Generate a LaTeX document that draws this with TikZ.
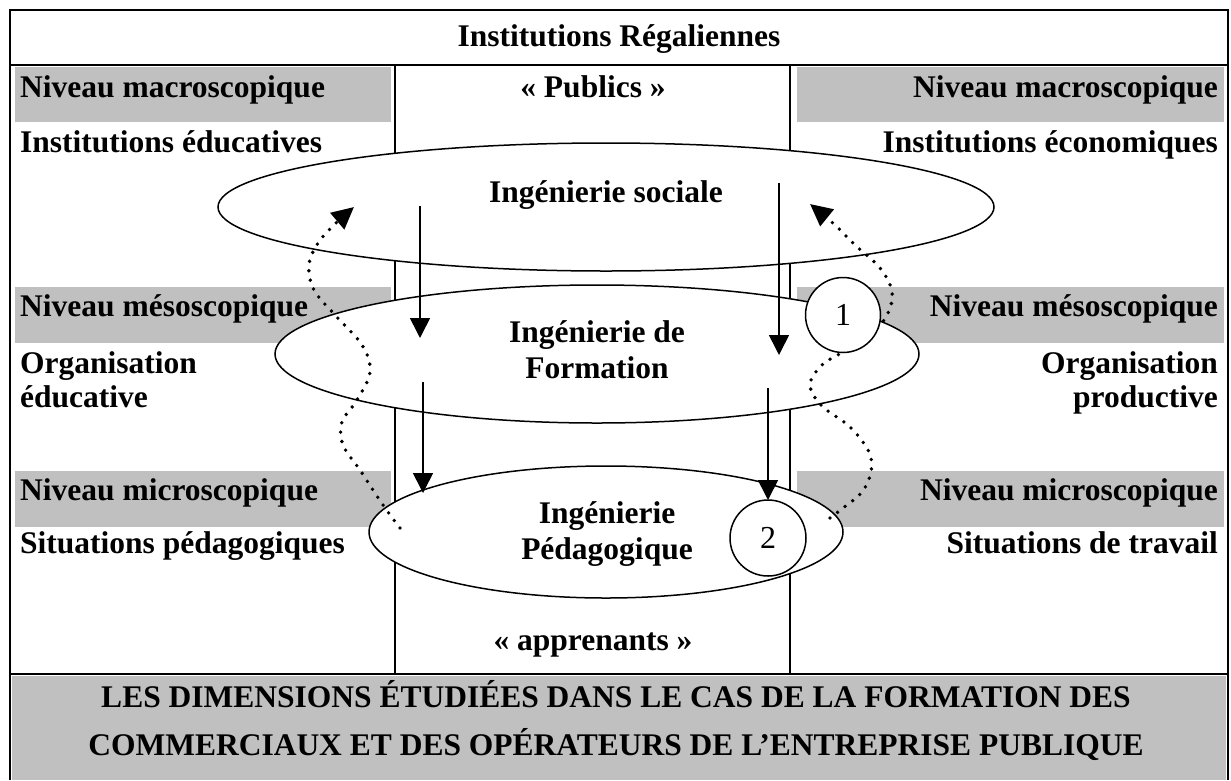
\documentclass[tikz,border=0pt]{standalone}
\usepackage{fontspec}
\setmainfont{Liberation Serif}
\usetikzlibrary{arrows.meta,shapes.geometric}
\definecolor{barGrey}{HTML}{C0C0C0}
\begin{document}
\begin{tikzpicture}[x=1pt,y=-1pt,
  lbl/.style={font=\fontsize{31.5}{36}\selectfont\bfseries, inner sep=0pt, anchor=base},
  lft/.style={lbl, anchor=base west},
  rgt/.style={lbl, anchor=base east},
  frameline/.style={line width=2pt},
  greybar/.style={fill=barGrey, draw=none},
  ellbox/.style={ellipse, draw, fill=white, line width=1.5pt, inner sep=0pt},
  numcirc/.style={circle, draw, fill=white, line width=1.5pt, inner sep=0pt,
     minimum size=75pt, font=\fontsize{32}{36}\selectfont},
  solidarrow/.style={line width=1.6pt, -{Triangle[length=20pt,width=20pt]}},
  dotarrow/.style={line width=3.8pt, line cap=round, dash pattern=on 0pt off 9.5pt,
     -{Triangle[length=22pt,width=21pt]}}]
\useasboundingbox (0,0) rectangle (1231,780);
\fill[white] (0,0) rectangle (1231,780);
% grey bars
\fill[greybar] (15,67) rectangle (391,122);
\fill[greybar] (15,287) rectangle (391,343);
\fill[greybar] (15,471) rectangle (391,527);
\fill[greybar] (797,67) rectangle (1224,122);
\fill[greybar] (797,287) rectangle (1224,343);
\fill[greybar] (797,471) rectangle (1224,527);
\fill[greybar] (12,676) rectangle (1226,780);
% frame
\draw[frameline] (10,780) -- (10,10) -- (1228,10) -- (1228,780);
\draw[frameline] (10,65) -- (1228,65);
\draw[frameline] (10,674) -- (1228,674);
\draw[frameline] (395,65) -- (395,674);
\draw[frameline] (790,65) -- (790,674);
% ellipses
\node[ellbox, minimum width=776pt, minimum height=128pt] (soc) at (606,207) {};
\node[ellbox, minimum width=644pt, minimum height=138pt] (form) at (597,354) {};
\node[ellbox, minimum width=474pt, minimum height=132pt] (peda) at (606,532) {};
\node[lbl] (tsoc) at (606,202) {Ingénierie sociale};
\node[lbl] (tform1) at (597,342) {Ingénierie de};
\node[lbl] (tform2) at (597,378) {Formation};
\node[lbl] (tpeda1) at (607,523) {Ingénierie};
\node[lbl] (tpeda2) at (607,559) {Pédagogique};
% solid arrows
\coordinate (a1) at (420,206); \coordinate (a2) at (420,338);
\coordinate (b1) at (779,183); \coordinate (b2) at (779,355);
\coordinate (c1) at (423,382); \coordinate (c2) at (423,493);
\coordinate (d1) at (768,388); \coordinate (d2) at (768,500);
\draw[solidarrow] (a1) -- (a2);
\draw[solidarrow] (b1) -- (b2);
\draw[solidarrow] (c1) -- (c2);
\draw[solidarrow] (d1) -- (d2);
% dotted curves
\draw[dotarrow] plot[smooth, tension=0.6] coordinates {(400,528) (383,505) (360,470) (343,445) (342,422) (357,400) (370,372) (362,345) (335,315) (314,290) (309,265) (318,243) (335,224) (354,207)};
\draw[dotarrow] plot[smooth, tension=0.6] coordinates {(830,518) (843,508) (862,492) (871,472) (869,452) (850,427) (822,406) (810,385) (822,365) (843,352) (870,335) (887,315) (892,292) (880,268) (855,245) (835,225) (810,204)};
% circles
\node[numcirc] (one) at (843,315) {1};
\node[numcirc, minimum size=76pt] (two) at (768,538) {2};
% texts
\node[lbl] (title) at (619,46) {Institutions Régaliennes};
\node[lbl] (publics) at (593,97) {« Publics »};
\node[lbl] (appr) at (593,650) {« apprenants »};
\node[lft] (nmacL) at (20,97) {Niveau macroscopique};
\node[rgt] (nmacR) at (1218,97) {Niveau macroscopique};
\node[lft] (instE) at (20,152) {Institutions éducatives};
\node[rgt] (instEc) at (1218,152) {Institutions économiques};
\node[lft] (nmesL) at (20,316) {Niveau mésoscopique};
\node[rgt] (nmesR) at (1218,316) {Niveau mésoscopique};
\node[lft] (orgE1) at (20,373) {Organisation};
\node[lft] (orgE2) at (20,407) {éducative};
\node[rgt] (orgP1) at (1218,373) {Organisation};
\node[rgt] (orgP2) at (1218,407) {productive};
\node[lft] (nmicL) at (20,500) {Niveau microscopique};
\node[rgt] (nmicR) at (1218,500) {Niveau microscopique};
\node[lft] (sitP) at (20,553) {Situations pédagogiques};
\node[rgt] (sitT) at (1218,553) {Situations de travail};
\node[lbl] (bot1) at (616,707) {LES DIMENSIONS ÉTUDIÉES DANS LE CAS DE LA FORMATION DES};
\node[lbl] (bot2) at (616,755) {COMMERCIAUX ET DES OPÉRATEURS DE L’ENTREPRISE PUBLIQUE};
\end{tikzpicture}
\end{document}
